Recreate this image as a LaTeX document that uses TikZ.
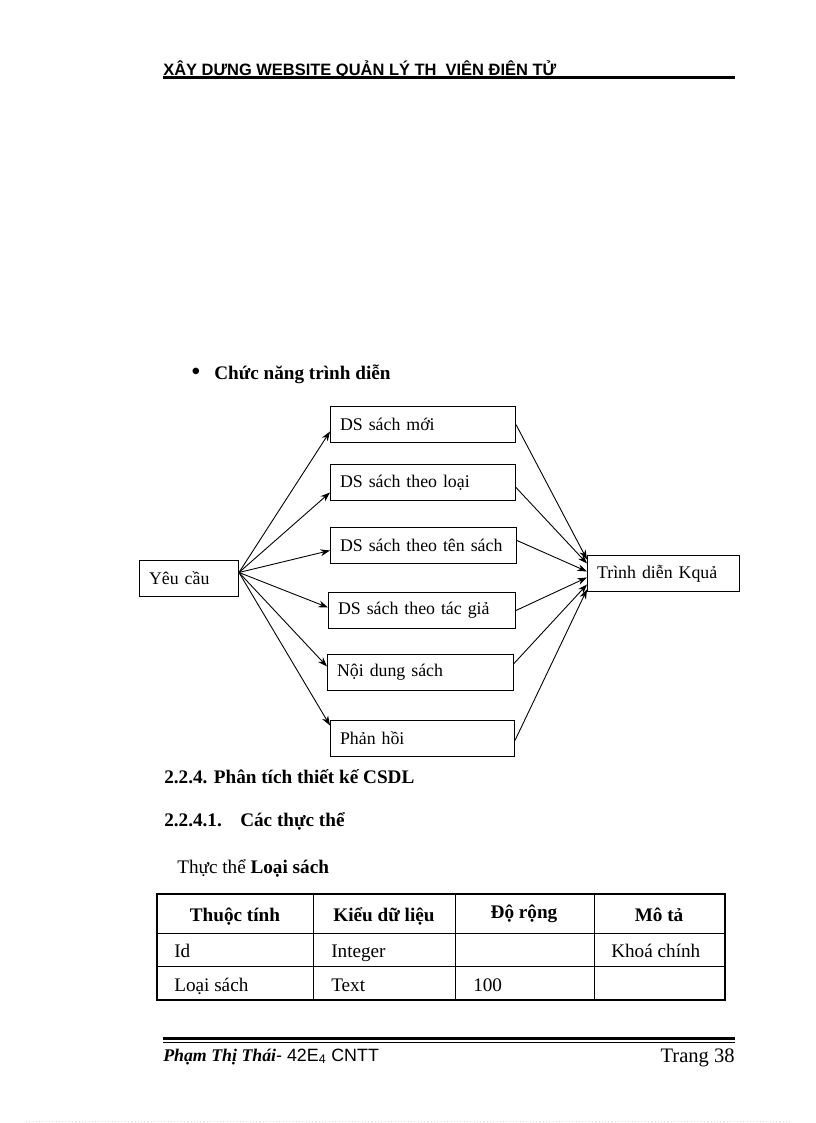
\documentclass[tikz,border=0pt]{standalone}
\usepackage{fontspec}
\setmainfont{Liberation Serif}
\setsansfont{Liberation Sans}
\usetikzlibrary{arrows.meta}
\newcommand\pxl{0.7293pt}
\tikzset{
  khung/.style={draw, line width=0.7pt, rectangle, anchor=north west, align=left,
    inner xsep=7pt, minimum height=36*\pxl, font=\fontsize{13}{15}\selectfont},
  muiten/.style={->, line width=0.65pt},
  chu/.style={anchor=base west, inner sep=0pt},
}
\begin{document}
\begin{tikzpicture}[x=\pxl, y=-\pxl, >={Stealth[length=7pt,width=5pt]}]
  \useasboundingbox[fill=white] (0,0) rectangle (816,1123);

  % header
  \node[chu] (tieude) at (163,75) {\sffamily\bfseries\fontsize{12}{14}\selectfont XÂY DỰNG WEBSITE QUẢN LÝ TH\ \ VIỆN ĐIỆN TỬ};
  \draw[line width=3*\pxl] (163,77) -- (735,77);

  \node[anchor=base] (cham) at (196,380) {\fontsize{20}{22}\selectfont •};
  \node[chu] (muc) at (214,379) {\fontsize{14}{16}\selectfont\bfseries Chức năng trình diễn};

  % boxes
  \node[khung, minimum width=99*\pxl, text width=99*\pxl-14pt] (ycau) at (139,560) {Yêu cầu};
  \node[khung, minimum width=185*\pxl, text width=185*\pxl-14pt] (moi) at (330,406) {DS sách mới};
  \node[khung, minimum width=185*\pxl, text width=185*\pxl-14pt] (loai) at (330,464) {DS sách theo loại};
  \node[khung, minimum width=186*\pxl, text width=186*\pxl-14pt] (ten) at (330,527) {DS sách theo tên sách};
  \node[khung, minimum width=187*\pxl, text width=187*\pxl-14pt] (tacgia) at (328,592) {DS sách theo tác giả};
  \node[khung, minimum width=186*\pxl, text width=186*\pxl-14pt] (noidung) at (327,654) {Nội dung sách};
  \node[khung, minimum width=184*\pxl, text width=184*\pxl-14pt] (phanhoi) at (330,720) {Phản hồi};
  \node[khung, minimum width=152*\pxl, text width=152*\pxl-14pt] (kq) at (587,555) {Trình diễn Kquả};

  \coordinate (goc) at ([yshift=6*\pxl]ycau.east);
  \draw[muiten] (goc) -- ([yshift=-7*\pxl]moi.west);
  \draw[muiten] (goc) -- ([yshift=-10*\pxl]loai.west);
  \draw[muiten] (goc) -- ([yshift=-5*\pxl]ten.west);
  \draw[muiten] (goc) -- ([yshift=3*\pxl]tacgia.west);
  \draw[muiten] (goc) -- ([yshift=6*\pxl]noidung.west);
  \draw[muiten] (goc) -- ([yshift=13*\pxl]phanhoi.west);

  \draw[muiten] (moi.east) -- ([yshift=14*\pxl]kq.west);
  \draw[muiten] ([yshift=-5*\pxl]loai.east) -- ([yshift=10*\pxl]kq.west);
  \draw[muiten] ([yshift=5*\pxl]ten.east) -- ([yshift=2*\pxl]kq.west);
  \draw[muiten] (tacgia.east) -- ([yshift=-4*\pxl]kq.west);
  \draw[muiten] ([yshift=9*\pxl]noidung.east) -- ([yshift=-11*\pxl]kq.west);
  \draw[muiten] ([yshift=-2*\pxl]phanhoi.east) -- ([yshift=-16*\pxl]kq.west);

  % headings
  \node[chu] (h1) at (164,783) {\fontsize{14}{16}\selectfont\bfseries 2.2.4. Phân tích thiết kế CSDL};
  \node[chu] (h2) at (164,826) {\fontsize{14}{16}\selectfont\bfseries 2.2.4.1.};
  \node[chu] (h3) at (240,826) {\fontsize{14}{16}\selectfont\bfseries Các thực thể};
  \node[chu] (h4) at (177,873) {\fontsize{14}{16}\selectfont Thực thể \textbf{Loại sách}};

  % table
  \draw[line width=0.8pt] (157,894) rectangle (725,1000);
  \draw[line width=0.6pt] (157,933) -- (725,933);
  \draw[line width=0.6pt] (157,966) -- (725,966);
  \draw[line width=0.6pt] (313,894) -- (313,1000);
  \draw[line width=0.6pt] (455,894) -- (455,1000);
  \draw[line width=0.6pt] (594,894) -- (594,1000);

  \node[anchor=base] (c1) at (235,921) {\fontsize{14}{16}\selectfont\bfseries Thuộc tính};
  \node[anchor=base] (c2) at (384,921) {\fontsize{14}{16}\selectfont\bfseries Kiểu dữ liệu};
  \node[anchor=base] (c3) at (524,918) {\fontsize{14}{16}\selectfont\bfseries Độ rộng};
  \node[anchor=base] (c4) at (659,921) {\fontsize{14}{16}\selectfont\bfseries Mô tả};
  \node[chu] (d11) at (174,957) {\fontsize{14}{16}\selectfont Id};
  \node[chu] (d12) at (331,957) {\fontsize{14}{16}\selectfont Integer};
  \node[chu] (d14) at (611,957) {\fontsize{14}{16}\selectfont Khoá chính};
  \node[chu] (d21) at (174,991) {\fontsize{14}{16}\selectfont Loại sách};
  \node[chu] (d22) at (331,991) {\fontsize{14}{16}\selectfont Text};
  \node[chu] (d23) at (473,991) {\fontsize{14}{16}\selectfont 100};

  % footer
  \draw[line width=2.5*\pxl] (163,1038.5) -- (735,1038.5);
  \draw[line width=1*\pxl] (163,1042) -- (735,1042);
  \node[chu] (tensv) at (163,1061) {\fontsize{13}{15}\selectfont\bfseries\itshape Phạm Thị Thái\sffamily\mdseries\upshape\fontsize{13}{15}\selectfont - 42E\textsubscript{4} CNTT};
  \node[anchor=base east, inner sep=0pt] (trang) at (735,1062) {\fontsize{15}{17}\selectfont Trang 38};

  \draw[gray!30, dotted] (26,1121) -- (792,1121);
\end{tikzpicture}
\end{document}
